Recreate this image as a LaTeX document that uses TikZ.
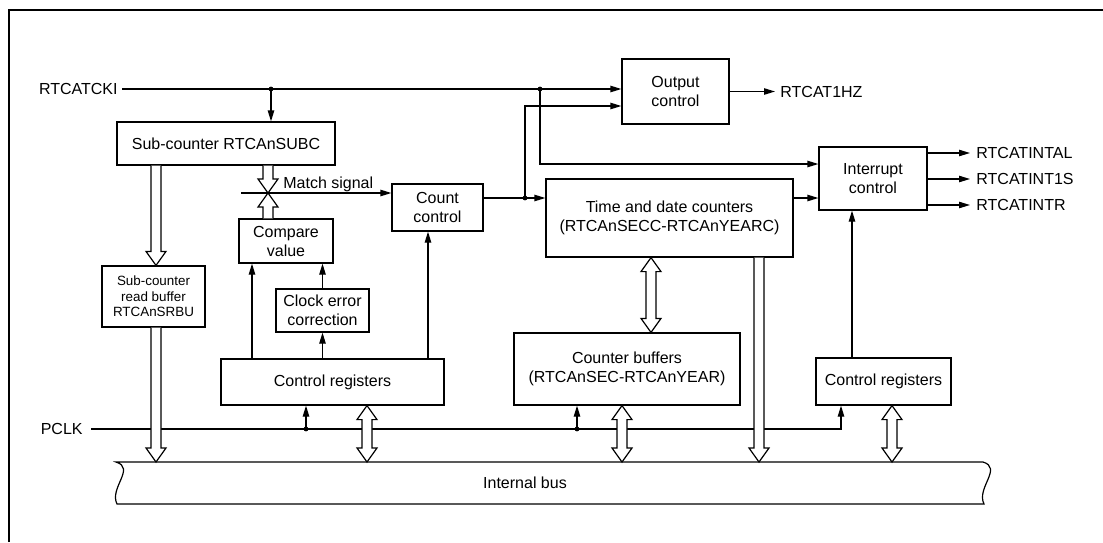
\documentclass[tikz,border=0pt]{standalone}
\usepackage{fontspec}
\setmainfont{Liberation Sans}
\usetikzlibrary{calc,arrows.meta}

\tikzset{
  blk/.style={draw, line width=0.6pt, inner sep=0pt, align=center, font=\fontsize{8}{9.5}\selectfont},
  wire/.style={line width=0.6pt},
  sig/.style={line width=0.6pt, -{Triangle[length=5.5pt,width=3.2pt]}},
  hollow/.style={draw, line width=0.6pt, fill=white, line join=miter},
  dot/.style={circle, fill, inner sep=0pt, minimum size=2.4pt},
  pin/.style={inner ysep=0pt, font=\fontsize{8}{9.5}\selectfont},
}

\newcommand{\hollowdown}[3]{%
  \draw[hollow] let \p0=(#1,0), \p1=(#2), \p2=(#3) in
    (\x0-2.5pt,\y1) -- (\x0-2.5pt,\y2+7pt) -- (\x0-5pt,\y2+7pt) -- (\x0,\y2)
    -- (\x0+5pt,\y2+7pt) -- (\x0+2.5pt,\y2+7pt) -- (\x0+2.5pt,\y1);}
\newcommand{\hollowup}[3]{%
  \draw[hollow] let \p0=(#1,0), \p1=(#2), \p2=(#3) in
    (\x0-2.5pt,\y1) -- (\x0-2.5pt,\y2-7pt) -- (\x0-5pt,\y2-7pt) -- (\x0,\y2)
    -- (\x0+5pt,\y2-7pt) -- (\x0+2.5pt,\y2-7pt) -- (\x0+2.5pt,\y1);}
\newcommand{\hollowboth}[3]{%
  \draw[hollow] let \p0=(#1,0), \p1=(#2), \p2=(#3) in
    (\x0,\y1) -- (\x0+5pt,\y1-7pt) -- (\x0+2.5pt,\y1-7pt) -- (\x0+2.5pt,\y2+7pt)
    -- (\x0+5pt,\y2+7pt) -- (\x0,\y2) -- (\x0-5pt,\y2+7pt) -- (\x0-2.5pt,\y2+7pt)
    -- (\x0-2.5pt,\y1-7pt) -- (\x0-5pt,\y1-7pt) -- cycle;}

\begin{document}
\begin{tikzpicture}[x=0.5pt, y=-0.5pt]
\useasboundingbox (0,0) rectangle (1103,542);
\draw[line width=1pt] (9,542) -- (9,10) -- (1103,10);

\node[blk, minimum width=109pt, minimum height=21.5pt] (subc) at (226,143.5) {Sub-counter RTCAnSUBC};
\node[blk, minimum width=51.5pt, minimum height=30.5pt, font=\fontsize{6.7}{7.75}\selectfont] (rdbuf) at (153.5,296.5) {Sub-counter\\read buffer\\RTCAnSRBU};
\node[blk, minimum width=47pt, minimum height=22pt] (cmpval) at (286,241) {Compare\\value};
\node[blk, minimum width=46.5pt, minimum height=21.5pt] (clkerr) at (322.5,310.5) {Clock error\\correction};
\node[blk, minimum width=111.5pt, minimum height=23pt] (ctrlregL) at (332.5,382) {Control registers};
\node[blk, minimum width=45.5pt, minimum height=23.5pt] (cntctl) at (437.5,207.5) {Count\\control};
\node[blk, minimum width=53.5pt, minimum height=32.5pt] (outctl) at (675.5,91.5) {Output\\control};
\node[blk, minimum width=123.5pt, minimum height=39pt] (tdc) at (669.5,218) {Time and date counters\\(RTCAnSECC-RTCAnYEARC)};
\node[blk, minimum width=54pt, minimum height=31.5pt] (intctl) at (873,178.5) {Interrupt\\control};
\node[blk, minimum width=113pt, minimum height=36pt] (cntbuf) at (627,369) {Counter buffers\\(RTCAnSEC-RTCAnYEAR)};
\node[blk, minimum width=67.5pt, minimum height=23.5pt] (ctrlregR) at (883.5,381.5) {Control registers};

\node[pin, inner xsep=2pt, anchor=east] (ckin) at (122,89) {RTCATCKI};
\node[pin, inner xsep=4pt, anchor=east] (pclk) at (91,429) {PCLK};
\node[pin, inner xsep=2.5pt, anchor=west] (o1hz) at (775,91.5) {RTCAT1HZ};
\node[pin, inner xsep=3pt, anchor=west] (oal) at (970,153) {RTCATINTAL};
\node[pin, inner xsep=3pt, anchor=west] (oi1s) at (970,179) {RTCATINT1S};
\node[pin, inner xsep=3pt, anchor=west] (oir) at (970,205) {RTCATINTR};
\node[pin, inner sep=0pt, anchor=base west] (mslabel) at (283,188) {Match signal};

\coordinate (busnw) at (116,462);
\coordinate (busne) at (983,462);
\coordinate (busse) at (984,504);
\coordinate (bussw) at (117,504);
\draw[wire, fill=white] (busnw) -- (busne) .. controls +(20,6) and +(-8,-16) .. (busse)
  -- (bussw) .. controls +(-8,-16) and +(20,6) .. (busnw) -- cycle;
\node[pin, inner sep=0pt] (buslabel) at (525,483) {Internal bus};

\coordinate (j1) at (271,89);
\coordinate (j2) at (540,89);
\coordinate (j3) at (525,198);
\coordinate (ms) at (241,193);
\coordinate (pj1) at (306,429);
\coordinate (pj2) at (577,429);
\coordinate (tdcout) at ([yshift=10pt]tdc.east);

\draw[sig] (ckin.east) -- (ckin.east -| outctl.west);
\draw[sig] (j1) -- (j1 |- subc.north);
\draw[sig] (j2) |- ([yshift=7.25pt]intctl.west);
\draw[sig] (cntctl.east |- j3) -- (j3 -| tdc.west);
\draw[sig] (j3) |- ([yshift=-7.25pt]outctl.west);
\draw[sig] (outctl.east) -- (o1hz.west);
\draw[sig] (tdcout) -- (tdcout -| intctl.west);
\draw[sig] (intctl.east |- oal.west) -- (oal.west);
\draw[sig] (intctl.east |- oi1s.west) -- (oi1s.west);
\draw[sig] (intctl.east |- oir.west) -- (oir.west);
\draw[sig] (852,0 |- ctrlregR.north) -- (852,0 |- intctl.south);

\draw[sig] (252,0 |- ctrlregL.north) -- (252,0 |- cmpval.south);
\draw[sig] (clkerr.north |- ctrlregL.north) -- (clkerr.south);
\draw[sig] (clkerr.north) -- (clkerr.north |- cmpval.south);
\draw[sig] (428,0 |- ctrlregL.north) -- (428,0 |- cntctl.south);

\draw[sig] (pclk.east) -| (841,0 |- ctrlregR.south);
\draw[sig] (pj1) -- (pj1 |- ctrlregL.south);
\draw[sig] (pj2) -- (pj2 |- cntbuf.south);

\hollowdown{156}{subc.south}{rdbuf.north}
\hollowdown{156}{rdbuf.south}{busnw}
\hollowdown{268}{subc.south}{ms}
\hollowup{268}{cmpval.north}{ms}
\hollowboth{367}{ctrlregL.south}{busnw}
\hollowboth{651}{tdc.south}{cntbuf.north}
\hollowboth{622}{cntbuf.south}{busnw}
\hollowdown{759}{tdc.south}{busnw}
\hollowboth{892}{ctrlregR.south}{busnw}

\draw[sig] (ms) -- (ms -| cntctl.west);

\node[dot] at (j1) {};
\node[dot] at (j2) {};
\node[dot] at (j3) {};
\node[dot] at (pj1) {};
\node[dot] at (pj2) {};
\end{tikzpicture}
\end{document}
